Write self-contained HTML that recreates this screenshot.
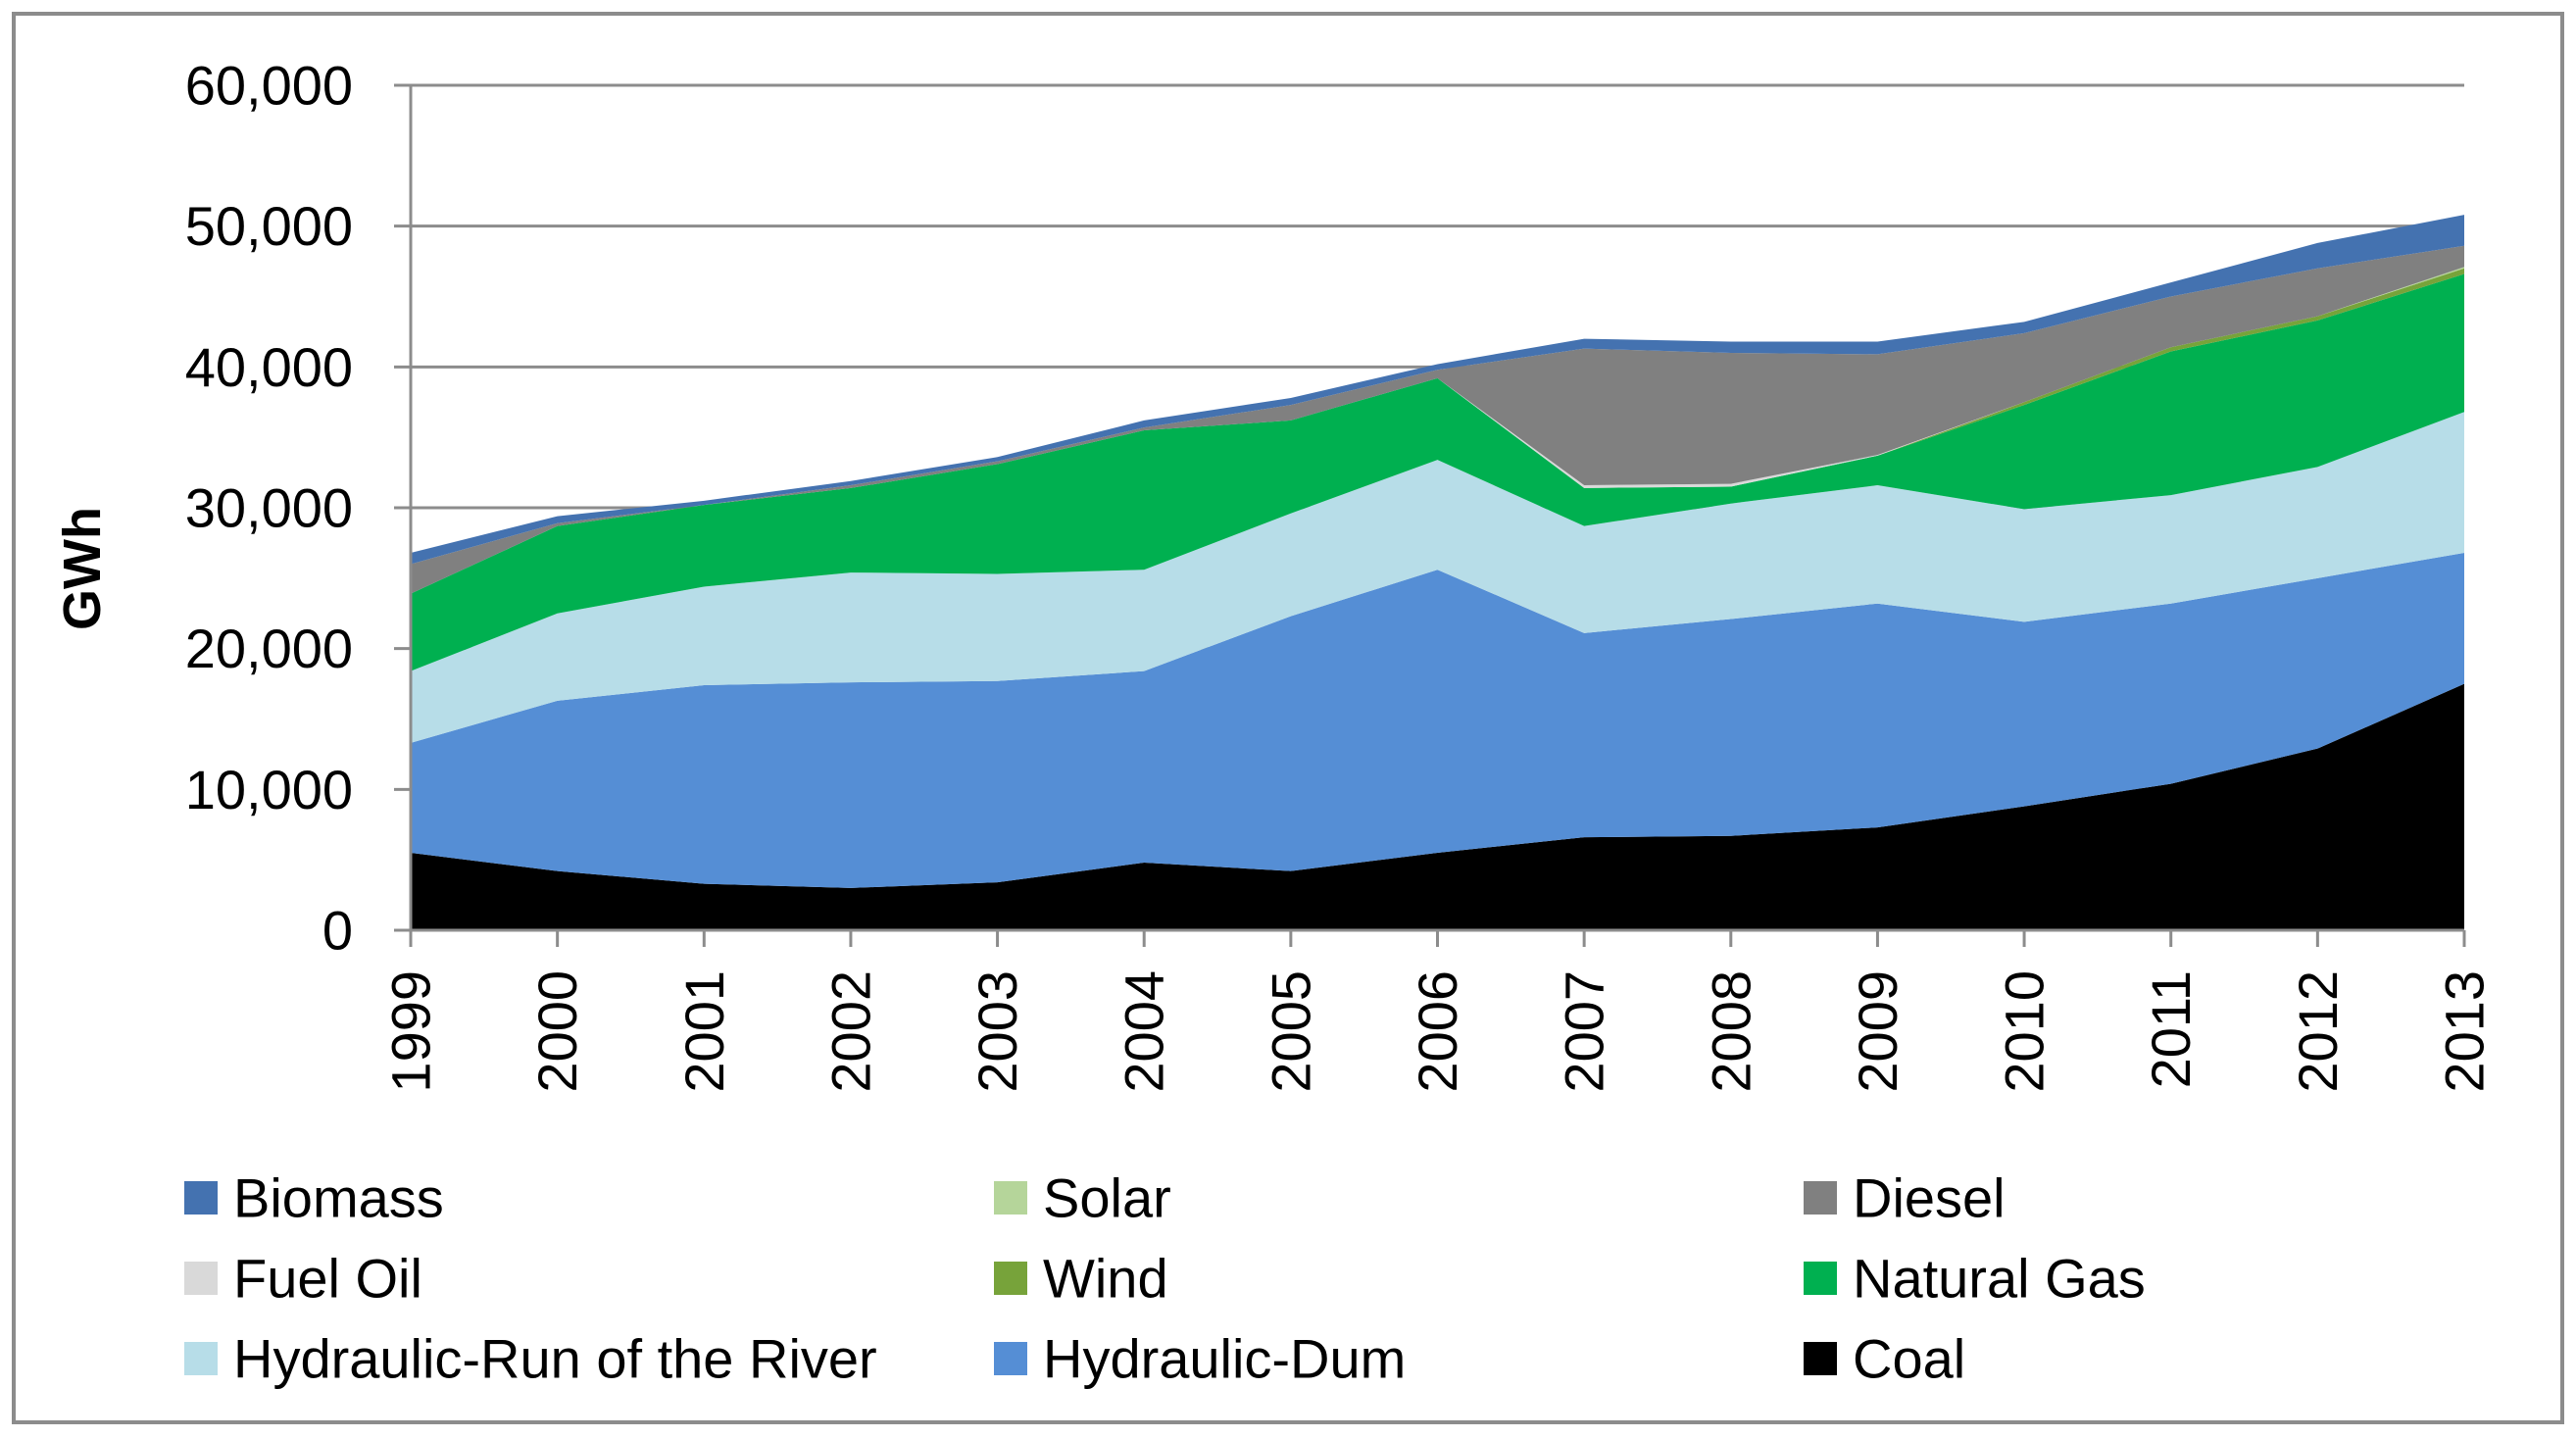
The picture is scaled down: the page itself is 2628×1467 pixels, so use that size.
<!DOCTYPE html>
<html><head><meta charset="utf-8"><style>
html,body{margin:0;padding:0;background:#fff;}
svg{display:block;font-family:"Liberation Sans",sans-serif;}
</style></head><body>
<svg id="chart" width="2628" height="1467" viewBox="0 0 2628 1467">
<rect x="14" y="14" width="2600" height="1437" fill="#fff" stroke="#8c8c8c" stroke-width="4"/>
<g id="grid"></g><g id="areas"></g><g id="axes"></g><g id="legend"></g>
<text x="84" y="580" transform="rotate(-90 84 580)" text-anchor="middle" dominant-baseline="central" font-size="54" font-weight="bold">GWh</text>
</svg>
<script>
const years = ["1999","2000","2001","2002","2003","2004","2005","2006","2007","2008","2009","2010","2011","2012","2013"];
const coal = [5500,4200,3300,3000,3400,4800,4200,5500,6600,6700,7300,8800,10400,12900,17500];
const hydroDam = [7800,12100,14100,14600,14300,13600,18100,20100,14500,15400,15900,13100,12800,12100,9300];
const hydroRun = [5100,6200,7000,7800,7600,7200,7300,7800,7600,8200,8400,8000,7700,7900,10000];
const naturalGas = [5500,6200,5800,6000,7800,9900,6600,5800,2700,1200,2100,7400,10200,10400,9800];
const wind = [0,0,0,0,0,0,0,0,0,0,0,200,300,300,400];
const solar = [0,0,0,0,0,0,0,0,0,0,0,0,0,0,100];
const fuelOil = [0,0,0,0,0,0,0,0,200,200,50,0,0,0,0];
const diesel = [2100,200,0,200,200,200,1100,600,9700,9300,7150,4900,3600,3400,1500];
const biomass = [800,500,300,300,300,500,500,400,700,800,900,800,1000,1800,2200];
const yTicks = [0,10000,20000,30000,40000,50000,60000];
const yTickLabels = ["0","10,000","20,000","30,000","40,000","50,000","60,000"];

const NS="http://www.w3.org/2000/svg";
const L=419,R=2514,Y0=949,YT=87,YMAX=60000;
const xs=i=>L+(R-L)*i/(years.length-1);
const ys=v=>Y0-(Y0-YT)*v/YMAX;
function mk(tag,attrs,parent){const e=document.createElementNS(NS,tag);for(const k in attrs)e.setAttribute(k,attrs[k]);parent.appendChild(e);return e;}
const grid=document.getElementById('grid'),areas=document.getElementById('areas'),axes=document.getElementById('axes'),legend=document.getElementById('legend');

yTicks.forEach((t,i)=>{
  if(t>0){const g=mk('line',{x1:L,x2:R,y1:ys(t),y2:ys(t),stroke:'#8c8c8c','stroke-width':3},grid);
  
  }
  const tk=mk('line',{x1:L-17,x2:L,y1:ys(t),y2:ys(t),stroke:'#8c8c8c','stroke-width':3},axes);
  
  
  const tx=mk('text',{x:360,y:ys(t),'text-anchor':'end','dominant-baseline':'central','font-size':56,fill:'#000'},axes);
  tx.textContent=yTickLabels[i];
  
  
});

const series=[
 {name:'Coal',data:coal,color:'#000000'},
 {name:'Hydraulic-Dum',data:hydroDam,color:'#558ed5'},
 {name:'Hydraulic-Run of the River',data:hydroRun,color:'#b7dde8'},
 {name:'Natural Gas',data:naturalGas,color:'#00b050'},
 {name:'Wind',data:wind,color:'#77a33a'},
 {name:'Solar',data:solar,color:'#b5d59a'},
 {name:'Fuel Oil',data:fuelOil,color:'#d9d9d9'},
 {name:'Diesel',data:diesel,color:'#808080'},
 {name:'Biomass',data:biomass,color:'#4472b0'}
];
let base=years.map(()=>0);
series.forEach(s=>{
  const top=base.map((b,i)=>b+s.data[i]);
  let d='M'+years.map((_,i)=>xs(i)+','+ys(top[i])).join(' L');
  for(let i=years.length-1;i>=0;i--) d+=' L'+xs(i)+','+ys(base[i]);
  d+=' Z';
  const p=mk('path',{d:d,fill:s.color},areas);
  
  
  base=top;
});

const ya=mk('line',{x1:L,x2:L,y1:YT,y2:Y0,stroke:'#8c8c8c','stroke-width':3},axes);


const xa=mk('line',{x1:L,x2:R,y1:Y0,y2:Y0,stroke:'#8c8c8c','stroke-width':3},axes);


years.forEach((y,i)=>{
  const tk=mk('line',{x1:xs(i),x2:xs(i),y1:Y0,y2:Y0+17,stroke:'#8c8c8c','stroke-width':3},axes);
  
  
  const tx=mk('text',{x:xs(i),y:990,transform:'rotate(-90 '+xs(i)+' 990)','text-anchor':'end','dominant-baseline':'central','font-size':56,fill:'#000'},axes);
  tx.textContent=y;
  
  
});

const legendItems=[
 ['Biomass','#4472b0'],['Solar','#b5d59a'],['Diesel','#808080'],
 ['Fuel Oil','#d9d9d9'],['Wind','#77a33a'],['Natural Gas','#00b050'],
 ['Hydraulic-Run of the River','#b7dde8'],['Hydraulic-Dum','#558ed5'],['Coal','#000000']
];
const colX=[188,1014,1840],rowY=[1222,1304,1386];
legendItems.forEach((it,k)=>{
  const cx=colX[k%3],cy=rowY[Math.floor(k/3)];
  const g=mk('g',{},legend);
  
  
  mk('rect',{x:cx,y:cy-17,width:34,height:34,fill:it[1]},g);
  const t=mk('text',{x:cx+50,y:cy,'dominant-baseline':'central','font-size':56,fill:'#000'},g);
  t.textContent=it[0];
});
</script>
</body></html>
